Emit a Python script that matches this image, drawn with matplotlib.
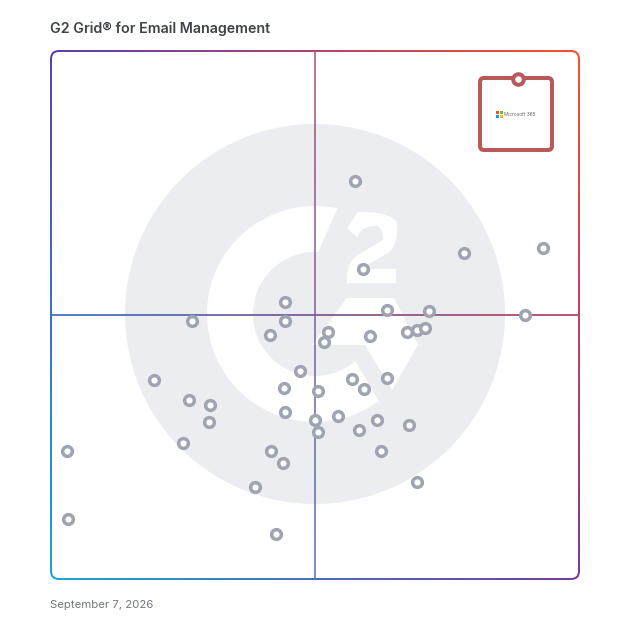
"""G2 Grid for Email Management, drawn in pixel coordinates of the 628x628 picture."""
import numpy as np
import matplotlib
matplotlib.use("Agg")
import matplotlib.pyplot as plt
from matplotlib.patches import FancyBboxPatch, Circle, PathPatch, Polygon, Rectangle
from matplotlib.path import Path

plt.rcParams["font.family"] = ["Inter", "DejaVu Sans"]

TITLE = "G2 Grid® for Email Management"
DATE = "September 7, 2026"
LEADER_NAME = "Microsoft 365"

# vendor dots
dot_x = [355, 464, 543, 363, 285, 387, 429, 525, 192, 285, 270, 328, 324, 370, 407, 417, 425,
         300, 154, 352, 387, 284, 318, 364, 189, 210, 285, 209, 338, 315, 377, 409, 359, 318,
         183, 67, 271, 381, 283, 417, 255, 68, 276]
dot_y = [181, 253, 248, 269, 302, 310, 311, 315, 321, 321, 335, 332, 342, 336, 332, 330, 328,
         371, 380, 379, 378, 388, 391, 389, 400, 405, 412, 422, 416, 420, 420, 425, 430, 432,
         443, 451, 451, 451, 463, 482, 487, 519, 534]
leader_x = [518]
leader_y = [79]

GREY = "#9fa4b1"
WATERMARK = "#ebedf0"
LEADER = "#b85a5c"
TL, TR, BL, BR = [np.array(matplotlib.colors.to_rgb(c)) for c in ("#5b3fb0", "#ff4f2e", "#1aa5d8", "#7a3a9a")]
L, R, T, B = 51, 579, 51, 579


def grad(xs, ys):
    u = ((xs - L) / (R - L))[..., None]
    v = ((ys - T) / (B - T))[..., None]
    return (1 - v) * ((1 - u) * TL + u * TR) + v * ((1 - u) * BL + u * BR)


fig = plt.figure(figsize=(6.28, 6.28), dpi=100)
ax = fig.add_axes([0, 0, 1, 1])
ax.set_xlim(0, 628)
ax.set_ylim(628, 0)
ax.axis("off")

# gradient frame: full gradient clipped to outer box, white box on top
xx, yy = np.meshgrid(np.linspace(L, R, 264), np.linspace(T, B, 264))
im = ax.imshow(grad(xx, yy), extent=(L - 1, R + 1, B + 1, T - 1), aspect="auto", zorder=1, interpolation="bilinear")
outer = FancyBboxPatch((L - 1, T - 1), R - L + 2, B - T + 2, boxstyle="round,pad=0,rounding_size=9",
                       fc="none", ec="none", transform=ax.transData)
ax.add_patch(outer)
im.set_clip_path(outer)
ax.add_patch(FancyBboxPatch((L + 1, T + 1), R - L - 2, B - T - 2, boxstyle="round,pad=0,rounding_size=7",
                            fc="white", ec="none", zorder=2))

# G2 watermark
CX, CY = 315, 314
ax.add_patch(Circle((CX, CY), 190, fc=WATERMARK, ec="none", zorder=3))
a_out = np.radians(np.linspace(53.7, 282, 120))  # y axis points down, so angles run clockwise on screen
a_in = np.radians(np.linspace(273, 49.5, 120))
ring = np.r_[np.c_[CX + 108 * np.cos(a_out), CY + 108 * np.sin(a_out)],
             np.c_[CX + 62 * np.cos(a_in), CY + 62 * np.sin(a_in)]]
ax.add_patch(Polygon(ring, fc="white", ec="none", zorder=4))
ax.add_patch(Polygon([(312, 345), (347, 298), (394, 298), (418, 345), (392, 390), (365, 345)],
                     fc="white", ec="none", zorder=4))
two = [(347, 228), (358, 212), (372, 212), (388, 212), (397, 222), (397, 235), (397, 248), (386, 254), (376, 260),
       (369, 264), (365, 266), (365, 269), (396, 269), (396, 283), (347, 283), (347, 273), (347, 262), (358, 255),
       (368, 249), (378, 243), (383, 240), (383, 235), (383, 230), (378, 226), (372, 226), (365, 226), (360, 232),
       (357, 237), (347, 228)]
codes = [Path.MOVETO] + [Path.LINETO] + [Path.CURVE4] * 9 + [Path.LINETO] * 3 + [Path.LINETO] + \
        [Path.CURVE4] * 12 + [Path.LINETO] * 2
codes = codes[:len(two)]
ax.add_patch(PathPatch(Path(two, codes), fc="white", ec="none", zorder=4))

# center lines
hx = np.linspace(L, R, 264)[None, :]
hy = np.full_like(hx, 315.0)
ax.imshow(grad(hx, hy), extent=(L, R, 316, 314), aspect="auto", zorder=5, alpha=0.9)
vy = np.linspace(T, B, 264)[:, None]
vx = np.full_like(vy, 315.0)
ax.imshow(grad(vx, vy), extent=(314, 316, B, T), aspect="auto", zorder=5, alpha=0.75)
ax.set_xlim(0, 628)
ax.set_ylim(628, 0)

# vendors
ax.plot(dot_x, dot_y, ls="none", marker="o", ms=7.0, mew=2.5, mec=GREY, mfc="white", zorder=6)

# leader box
ax.add_patch(FancyBboxPatch((480, 78), 72, 72, boxstyle="round,pad=0,rounding_size=4",
                            fc="white", ec=LEADER, lw=2.9, zorder=6))
ax.plot(leader_x, leader_y, ls="none", marker="o", ms=7.6, mew=2.9, mec=LEADER, mfc="white", zorder=7)
for (x, y, c) in [(496, 111, "#f25022"), (499.6, 111, "#7fba00"), (496, 114.6, "#00a4ef"), (499.6, 114.6, "#ffb900")]:
    ax.add_patch(Rectangle((x, y), 3.4, 3.4, fc=c, ec="none", zorder=7))
ax.text(504, 114.3, LEADER_NAME, fontsize=3.4, color="#666666", va="center", ha="left", zorder=7)

ax.text(50, 29, TITLE, fontsize=10.25, fontweight="semibold", color="#3f4246", va="center", ha="left")
ax.text(50, 604.5, DATE, fontsize=8.2, color="#73777f", va="center", ha="left")

fig.savefig("out.png", dpi=100)
